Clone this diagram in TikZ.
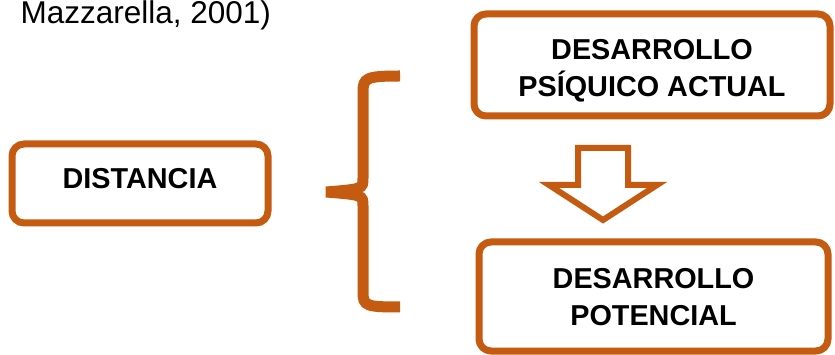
\documentclass[tikz,border=0pt]{standalone}
\usepackage{fontspec}
\setmainfont{Liberation Sans}
\definecolor{rust}{HTML}{C55A11}
\tikzset{
  box/.style={draw=rust,line width=7pt,rounded corners=12pt,inner sep=0pt,
    align=center,font=\bfseries\fontsize{28.8}{37}\selectfont},
  brace/.style={draw=rust,line width=11pt},
  blockarrow/.style={draw=rust,line width=6pt,line join=miter}
}
\begin{document}
\begin{tikzpicture}[x=1pt,y=-1pt]
\useasboundingbox (0,0) rectangle (835,355);
\node[anchor=base west,font=\fontsize{31.5}{36}\selectfont] (cita) at (17,24) {Mazzarella, 2001)};
\node[box,minimum width=256pt,minimum height=79pt,text height=11pt,text depth=0pt]
  (distancia) at (140,183.5) {DISTANCIA};
\node[box,minimum width=356pt,minimum height=102pt,text height=64pt,text depth=0pt]
  (actual) at (652,65) {DESARROLLO\\PSÍQUICO ACTUAL};
\node[box,minimum width=349pt,minimum height=109pt,text height=57pt,text depth=0pt]
  (potencial) at (653.5,296.5) {DESARROLLO\\POTENCIAL};
\coordinate (tip) at (326,192);
\draw[brace] (400,76) .. controls (366,76) and (363,78) .. (363,92) -- (363,178)
  .. controls (363,189) .. (tip) .. controls (363,195) .. (363,206) -- (363,292)
  .. controls (363,306) and (366,307) .. (400,307);
\draw[blockarrow] (578,148) -- (628,148) -- (628,185) -- (657,185) -- (603,220)
  -- (549,185) -- (578,185) -- cycle;
\end{tikzpicture}
\end{document}
